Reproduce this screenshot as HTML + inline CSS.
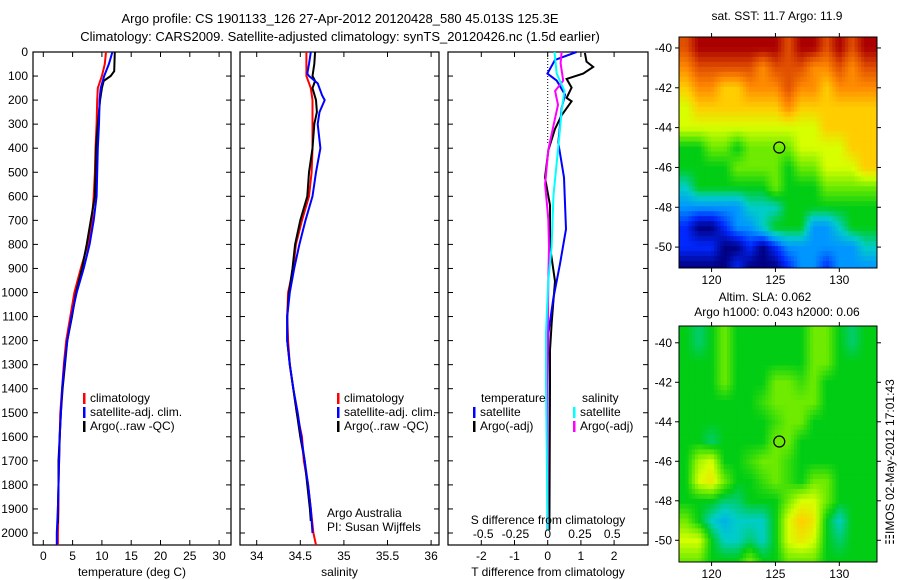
<!DOCTYPE html>
<html><head><meta charset="utf-8"><style>
body{margin:0;background:#fff;width:900px;height:580px;overflow:hidden}
svg{display:block;font-family:"Liberation Sans",sans-serif}
text{font-size:12px;fill:#000}
</style></head><body>
<svg id="fig" width="900" height="580">
<text x="340" y="23" text-anchor="middle" style="font-size:13px">Argo profile: CS 1901133_126 27-Apr-2012 20120428_580 45.013S 125.3E</text>
<text x="340" y="41" text-anchor="middle" style="font-size:13px">Climatology: CARS2009. Satellite-adjusted climatology: synTS_20120426.nc (1.5d earlier)</text>
<text x="777" y="20" text-anchor="middle">sat. SST: 11.7 Argo: 11.9</text>
<text x="765" y="301" text-anchor="middle">Altim. SLA: 0.062</text>
<text x="777" y="316" text-anchor="middle">Argo h1000: 0.043 h2000: 0.06</text>
<text transform="translate(894,462) rotate(-90)" text-anchor="middle">&#9783;IMOS 02-May-2012 17:01:43</text>
</svg>
<script>
// ---- data ----
const depthTicks=[0,100,200,300,400,500,600,700,800,900,1000,1100,1200,1300,1400,1500,1600,1700,1800,1900,2000];
const tTicks=[0,5,10,15,20,25,30];
const sTicks=[34,34.5,35,35.5,36];
const dtTicks=[-2,-1,0,1,2];
const dsTicks=[-0.5,-0.25,0,0.25,0.5];
const dsTickLabels=["-0.5","-0.25","0","0.25","0.5"];
const tClimDepth=[0,50,100,150,200,300,400,500,600,700,800,900,1000,1100,1200,1300,1400,1500,1600,1700,1800,1900,2000,2050];
const tClim=[10.7,10.5,10.0,9.3,9.2,9.1,8.9,8.8,8.6,8.3,7.6,6.4,5.3,4.6,3.9,3.5,3.2,2.9,2.8,2.7,2.6,2.6,2.5,2.5];
const tSat=[11.8,11.2,10.4,9.8,9.6,9.5,9.3,9.2,9.1,8.6,7.9,6.9,5.7,4.8,4.1,3.6,3.2,3.0,2.8,2.7,2.6,2.5,2.3,2.3];
const argoDepth=[0,80,100,120,150,200,300,400,500,600,700,800,900,1000,1100,1200,1300,1400,1500,1600,1700,1800,1900,1960];
const tArgo=[12.2,12.1,11.5,10.3,10.0,9.7,9.3,9.0,8.9,8.8,8.1,7.4,6.6,5.6,4.9,4.1,3.7,3.3,3.0,2.8,2.6,2.6,2.5,2.5];
const sClimDepth=[0,100,150,200,400,500,600,700,800,900,1000,1100,1200,1300,1400,1500,1600,1700,1800,1900,2000,2050];
const sClim=[34.57,34.57,34.62,34.64,34.64,34.63,34.6,34.52,34.45,34.42,34.36,34.35,34.36,34.38,34.42,34.46,34.52,34.54,34.59,34.62,34.65,34.68];
const sSatDepth=[0,50,90,100,130,180,200,250,300,400,500,600,700,800,900,1000,1100,1200,1300,1400,1500,1600,1700,1800,1900,2000];
const sSat=[34.62,34.6,34.58,34.6,34.7,34.75,34.78,34.72,34.7,34.73,34.68,34.64,34.56,34.49,34.43,34.38,34.35,34.35,34.38,34.42,34.47,34.51,34.55,34.59,34.62,34.64];
const sArgoDepth=[0,50,100,120,150,200,250,300,400,500,600,700,800,900,1000,1100,1200,1300,1400,1500,1600,1700,1800,1900,1950];
const sArgo=[34.67,34.66,34.64,34.67,34.64,34.68,34.69,34.66,34.64,34.6,34.58,34.5,34.44,34.41,34.37,34.35,34.35,34.38,34.42,34.46,34.5,34.55,34.58,34.61,34.62];
const dtArgoDepth=[4,40,62,90,112,148,191,205,263,320,407,522,637,809,953,1125,1240,1384,1987];
const dtArgo=[1.12,1.17,1.37,1.07,0.57,0.72,0.57,0.72,0.42,0.22,0.02,-0.08,0.07,0.07,0.22,0.12,0.07,0.07,0.05];
const dtSatDepth=[0,33,90,119,177,234,378,522,737,881,1025,1168,1384,1987];
const dtSat=[0.87,0.22,-0.01,0.27,0.52,0.42,0.32,0.49,0.55,0.37,0.17,0.02,-0.01,-0.01];
const dsArgoDepth=[0,47,119,162,220,292,407,550,694,809,953,1240,1384,1987];
const dsArgo=[0.108,0.1,0.12,0.057,0.08,0.05,0.005,-0.02,0.005,0.01,0.005,0,-0.005,0];
const dsSatDepth=[0,90,162,234,378,594,809,953,1168,1384,1987];
const dsSat=[0.053,0.07,0.13,0.11,0.085,0.045,0.03,0.005,-0.013,-0.013,0];
const mapLonTicks=[120,125,130];
const mapLatTicks=[-40,-42,-44,-46,-48,-50];
const sstGrid=[
[9,10,10,10,10,10,10,10,9,10,10,9,10,9,10],
[8,9,9,9,9,9,8,9,9,9,8,8,9,8,9],
[7,8,8,7,7,8,8,8,9,8,8,7,8,8,8],
[6,7,7,7,7,7,7,7,8,7,7,7,7,7,7],
[6,6,6,6,6,6,6,6,6,6,6,7,7,7,7],
[4,4,5,5,4,5,5,5,5,6,6,6,6,7,7],
[4,4,4,4,5,5,5,5,4,5,5,6,6,6,7],
[3,4,4,4,4,4,4,5,4,4,4,5,5,5,5],
[2,2,2,2,2,3,3,3,4,4,4,4,4,4,4],
[1,0,0,1,2,2,3,4,4,4,2,2,3,4,4],
[1,1,1,0,0,1,0,1,2,2,2,2,2,2,3],
[0,0,0,0,1,0,0,0,1,2,2,1,2,2,2]];
const slaGrid=[
[4,3.5,4,5,4,4,4,4,4,4,5,5,4,3.5,4],
[4,4,4,5,4,4,4,4,4,4,5,5,4,4,4],
[4,4,4,5,4,4,4,5,5,4.5,5,4,4,4,4],
[4,4,4,4,4,4,4.5,5,5,5,5,4,4,4,4],
[4,4,4,4,4,4,4,4.5,5,5,4,4,4,4,4],
[4,4,3.5,4,4,4,4,5,5,4,4,4,4,4,4],
[4,5.5,6,4,4,4.5,5,5,4.5,4,4,4,4,4,4],
[4,6,6.5,5,4,4,4.5,5,4.5,4,5,5,4,4,4],
[4,4,4,3.5,3.5,4,4,4,5,6,6,5,4,4,4],
[5,4,3,2.5,3,3,3,4,6,7,6.5,4,3,4,4],
[6,6,4,3,3,3.5,3,4,6,6.5,6,4,3.5,4,4],
[5,5,4,4,4,5,4,4,5,5,5,4,4,4,4]];
const argoLon=[125.3];
const argoLat=[-45.0];

// ---- drawing ----
const svg=document.getElementById('fig');
const NS='http://www.w3.org/2000/svg';
function mk(tag,attrs,parent){const e=document.createElementNS(NS,tag);for(const k in attrs)e.setAttribute(k,attrs[k]);(parent||svg).appendChild(e);return e;}
const Y0=52,YB=545,yD=d=>Y0+d*0.2405;
const panels=[
 {x0:33,x1:231,sc:v=>43.3+5.86*v,ticks:tTicks,lab:tTicks.map(String),title:'temperature (deg C)',name:'temperature-panel'},
 {x0:240,x1:439,sc:v=>256.7+87.2*(v-34),ticks:sTicks,lab:sTicks.map(String),title:'salinity',name:'salinity-panel'},
 {x0:448,x1:648,sc:v=>547.7+33.2*v,ticks:dtTicks,lab:dtTicks.map(String),title:'T difference from climatology',name:'difference-panel'}];
const dsx=v=>547.7+129*v;
panels.forEach((p,i)=>{
 const g=mk('g',{});
 
 
 mk('rect',{x:p.x0,y:Y0,width:p.x1-p.x0,height:YB-Y0,fill:'#fff',stroke:'#000','stroke-width':1.2},g);
 depthTicks.forEach(d=>{const y=yD(d);
  mk('line',{x1:p.x0,x2:p.x0+5,y1:y,y2:y,stroke:'#000'},g);
  mk('line',{x1:p.x1,x2:p.x1-5,y1:y,y2:y,stroke:'#000'},g);
  if(i===0){const t=mk('text',{x:28,y:y+4,'text-anchor':'end'},g);t.textContent=d;
   
   }
 });
 p.ticks.forEach((v,k)=>{const x=p.sc(v);
  mk('line',{x1:x,x2:x,y1:YB,y2:YB-5,stroke:'#000'},g);
  mk('line',{x1:x,x2:x,y1:Y0,y2:Y0+5,stroke:'#000'},g);
  const t=mk('text',{x:x,y:YB+15,'text-anchor':'middle'},g);t.textContent=p.lab[k];
  
  
 });
 const t=mk('text',{x:(p.x0+p.x1)/2,y:YB+31,'text-anchor':'middle'},g);t.textContent=p.title;
 
 
});
function line(xs,ds,sc,color,name,w){
 const pts=xs.map((v,i)=>sc(v).toFixed(1)+','+yD(ds[i]).toFixed(1)).join(' ');
 const l=mk('polyline',{points:pts,fill:'none',stroke:color,'stroke-width':w||2});
 
 
}
const zl=mk('line',{x1:547.7,x2:547.7,y1:Y0,y2:yD(380),stroke:'#000','stroke-dasharray':'1,2'});


line(tClim,tClimDepth,panels[0].sc,'#f00','temp-climatology-line');
line(tArgo,argoDepth,panels[0].sc,'#000','temp-argo-line');
line(tSat,tClimDepth,panels[0].sc,'#00f','temp-satellite-line');
line(sClim,sClimDepth,panels[1].sc,'#f00','sal-climatology-line');
line(sArgo,sArgoDepth,panels[1].sc,'#000','sal-argo-line');
line(sSat,sSatDepth,panels[1].sc,'#00f','sal-satellite-line');
line(dtArgo,dtArgoDepth,panels[2].sc,'#000','tdiff-argo-line');
line(dtSat,dtSatDepth,panels[2].sc,'#00f','tdiff-satellite-line');
line(dsArgo,dsArgoDepth,dsx,'#f0f','sdiff-argo-line');
line(dsSat,dsSatDepth,dsx,'#0ff','sdiff-satellite-line');
dsTicks.forEach((v,k)=>{const t=mk('text',{x:dsx(v),y:538,'text-anchor':'middle'});t.textContent=dsTickLabels[k];
 
 });
function txt(x,y,s,name,anchor){const t=mk('text',{x:x,y:y,'text-anchor':anchor||'start'});t.textContent=s;
 
 return t;}
txt(548,524,'S difference from climatology','sdiff-axis-title','middle');
txt(327,517,'Argo Australia','attribution-line-1');
txt(327,531,'PI: Susan Wijffels','attribution-line-2');
function leg(x,y,color,label){const g=mk('g',{});
 
 
 mk('rect',{x:x,y:y-9,width:2.5,height:11,fill:color},g);
 const t=mk('text',{x:x+7,y:y},g);t.textContent=label;}
[[83,'#f00','climatology'],[83,'#00f','satellite-adj. clim.'],[83,'#000','Argo(..raw -QC)']].forEach((e,i)=>leg(e[0],402+i*14,e[1],e[2]));
[[337,'#f00','climatology'],[337,'#00f','satellite-adj. clim.'],[337,'#000','Argo(..raw -QC)']].forEach((e,i)=>leg(e[0],402+i*14,e[1],e[2]));
txt(481,402,'temperature','legend-header-temperature');
txt(582,402,'salinity','legend-header-salinity');
leg(473,416,'#00f','satellite');leg(473,430,'#000','Argo(-adj)');
leg(573,416,'#0ff','satellite');leg(573,430,'#f0f','Argo(-adj)');
// maps
const pal=[[0,0,128],[0,40,255],[0,150,255],[0,205,200],[0,205,20],[110,235,0],[215,255,0],[255,205,0],[255,140,0],[225,80,0],[170,0,0]];
function col(v){v=Math.max(0,Math.min(10,v));const i=Math.min(9,Math.floor(v)),f=v-i;
 const a=pal[i],b=pal[i+1];return `rgb(${a.map((c,k)=>Math.round(c+(b[k]-c)*f)).join(',')})`;}
function sample(grid,r,c){const R=grid.length,C=grid[0].length;
 r=Math.max(0,Math.min(R-1,r));c=Math.max(0,Math.min(C-1,c));
 const r0=Math.floor(r),c0=Math.floor(c),r1=Math.min(R-1,r0+1),c1=Math.min(C-1,c0+1),fr=r-r0,fc=c-c0;
 return grid[r0][c0]*(1-fr)*(1-fc)+grid[r0][c1]*(1-fr)*fc+grid[r1][c0]*fr*(1-fc)+grid[r1][c1]*fr*fc;}
function drawMap(grid,top,bot,latTop,latBot,name){
 const x0=679,x1=877,lonL=117.45,lonR=132.95;
 const lx=l=>x0+(l-lonL)*(x1-x0)/(lonR-lonL);
 const ly=l=>top+(latTop-l)*(bot-top)/(latTop-latBot);
 const g=mk('g',{});
 
 
 const step=0.25;
 for(let la=latTop;la>latBot;la-=step){
  for(let lo=lonL;lo<lonR;lo+=step){
   const r=(-40-(la-step/2)), c=(lo+step/2-118);
   const v=sample(grid,r,c);
   const ya=ly(la),yb=Math.min(bot,ly(la-step)),xa=lx(lo),xb=Math.min(x1,lx(lo+step));
   mk('rect',{x:xa.toFixed(2),y:ya.toFixed(2),width:(xb-xa+0.5).toFixed(2),height:(yb-ya+0.5).toFixed(2),fill:col(v)},g);
  }
 }
 mk('rect',{x:x0,y:top,width:x1-x0,height:bot-top,fill:'none',stroke:'#000'},g);
 mapLonTicks.forEach(l=>{const x=lx(l);mk('line',{x1:x,x2:x,y1:bot,y2:bot+4,stroke:'#000'},g);mk('line',{x1:x,x2:x,y1:top,y2:top-4,stroke:'#000'},g);
  const t=mk('text',{x:x,y:bot+16,'text-anchor':'middle'},g);t.textContent=l;
  
  });
 mapLatTicks.forEach(l=>{const y=ly(l);mk('line',{x1:x0,x2:x0-4,y1:y,y2:y,stroke:'#000'},g);mk('line',{x1:x1,x2:x1+4,y1:y,y2:y,stroke:'#000'},g);
  const t=mk('text',{x:x0-7,y:y+4,'text-anchor':'end'},g);t.textContent=l;
  
  });
 const c=mk('circle',{cx:lx(argoLon[0]),cy:ly(argoLat[0]),r:5.5,fill:'none',stroke:'#000','stroke-width':1.2},g);
 
 
}
drawMap(sstGrid,37,268,-39.45,-51.05,'sst-map');
drawMap(slaGrid,326,562,-39.15,-51.1,'sla-map');
</script>
</body></html>
